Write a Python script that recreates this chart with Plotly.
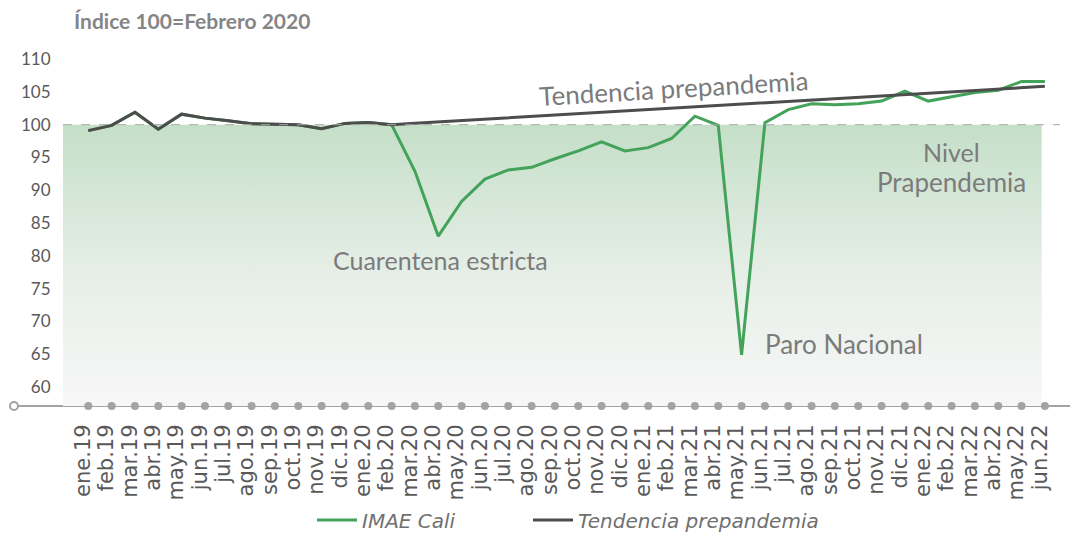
import plotly.graph_objects as go

# ---------------- data ----------------
months = ["ene.19", "feb.19", "mar.19", "abr.19", "may.19", "jun.19", "jul.19", "ago.19",
          "sep.19", "oct.19", "nov.19", "dic.19", "ene.20", "feb.20", "mar.20", "abr.20",
          "may.20", "jun.20", "jul.20", "ago.20", "sep.20", "oct.20", "nov.20", "dic.20",
          "ene.21", "feb.21", "mar.21", "abr.21", "may.21", "jun.21", "jul.21", "ago.21",
          "sep.21", "oct.21", "nov.21", "dic.21", "ene.22", "feb.22", "mar.22", "abr.22",
          "may.22", "jun.22"]

imae_cali = [99.1, 99.9, 101.9, 99.3, 101.6, 101.0, 100.6, 100.15, 100.05, 100.0, 99.4, 100.2,
             100.35, 100.0, 92.9, 83.0, 88.3, 91.7, 93.1, 93.5, 94.8, 96.0, 97.4, 96.0,
             96.5, 97.9, 101.3, 99.9, 64.9, 100.3, 102.3, 103.2, 103.05, 103.2, 103.6, 105.1,
             103.6, 104.2, 104.9, 105.25, 106.6, 106.6]

tendencia = [99.1, 99.9, 101.9, 99.3, 101.6, 101.0, 100.6, 100.15, 100.05, 100.0, 99.4, 100.2,
             100.35, 100.0, 100.21, 100.42, 100.63, 100.84, 101.05, 101.25, 101.46, 101.67,
             101.88, 102.09, 102.3, 102.51, 102.72, 102.93, 103.13, 103.34, 103.55, 103.76,
             103.97, 104.18, 104.39, 104.6, 104.81, 105.01, 105.22, 105.43, 105.64, 105.85]

y_ticks = [60, 65, 70, 75, 80, 85, 90, 95, 100, 105, 110]
nivel_pre = 100
y_min, y_max = 57.1, 112
x_min, x_max = -1.084, 42.29
shade_x = [-1.084, 40.86]

idx = list(range(len(months)))

FONT = "Lato"
TICK_FONT = "DejaVu Sans"
GRAY_TXT = "#595959"
ANN_TXT = "#7b7b7b"
GREEN = "#43a35a"
DARK = "#4d4d4d"
AXIS_GRAY = "#a3a3a3"

# the page body adds an 8px offset; the figure is sized to fill the rest of the window
FIG_W, FIG_H = 1070, 525
OFF = 8
plot_l, plot_r = 63 - OFF, 1075 - OFF
plot_t, plot_b = 46 - OFF, 406 - OFF
pw = plot_r - plot_l


def px_to_paper(px):
    """screen x pixel in the reference -> paper fraction"""
    return (px - 63) / pw


fig = go.Figure()

# gradient shaded area below pre-pandemic level
fig.add_trace(go.Scatter(
    x=[shade_x[0], shade_x[1], shade_x[1], shade_x[0], shade_x[0]],
    y=[y_min, y_min, nivel_pre, nivel_pre, y_min],
    mode="lines", line=dict(width=0), fill="toself",
    fillgradient=dict(type="vertical",
                      colorscale=[[0, "#f7f7f7"], [0.45, "#e7efe8"], [1, "#c5dfc8"]]),
    hoverinfo="skip", showlegend=False))

# series
fig.add_trace(go.Scatter(x=idx, y=imae_cali, mode="lines", name="IMAE Cali",
                         line=dict(color=GREEN, width=3), legend="legend"))
fig.add_trace(go.Scatter(x=idx, y=tendencia, mode="lines", name="Tendencia prepandemia",
                         line=dict(color=DARK, width=3), legend="legend2"))

# axis dots
fig.add_trace(go.Scatter(x=idx, y=[y_min] * len(months), mode="markers",
                         marker=dict(color=AXIS_GRAY, size=8), cliponaxis=False,
                         hoverinfo="skip", showlegend=False))

shapes = [
    dict(type="line", xref="paper", yref="y", x0=0, x1=px_to_paper(1060),
         y0=nivel_pre, y1=nivel_pre, line=dict(color="#a8a8a8", width=1, dash="dash"), layer="above"),
    dict(type="line", xref="paper", yref="paper", x0=px_to_paper(14), x1=px_to_paper(1078),
         y0=0, y1=0, line=dict(color=AXIS_GRAY, width=2), layer="below"),
    dict(type="circle", xref="paper", yref="paper", xsizemode="pixel", ysizemode="pixel",
         xanchor=px_to_paper(14), yanchor=0, x0=-4, x1=4, y0=-4, y1=4,
         line=dict(color=AXIS_GRAY, width=2), fillcolor="white", layer="above"),
]

annotations = [
    dict(text="<b>Índice 100=Febrero 2020</b>", xref="paper", yref="paper",
         x=px_to_paper(72), y=1.0, yshift=26, xanchor="left", yanchor="middle", showarrow=False,
         font=dict(family=FONT, size=21, color="#858585")),
    dict(text="Tendencia prepandemia", xref="x", yref="y", x=25.1, y=105.6,
         showarrow=False, textangle=-3.4, font=dict(family=FONT, size=26, color=ANN_TXT)),
    dict(text="Nivel", xref="x", yref="y", x=37.0, y=95.8,
         showarrow=False, font=dict(family=FONT, size=25, color=ANN_TXT)),
    dict(text="Prapendemia", xref="x", yref="y", x=37.0, y=91.3,
         showarrow=False, font=dict(family=FONT, size=26, color=ANN_TXT)),
    dict(text="Cuarentena estricta", xref="x", yref="y", x=15.1, y=79.4,
         showarrow=False, font=dict(family=FONT, size=25, color=ANN_TXT)),
    dict(text="Paro Nacional", xref="x", yref="y", x=32.4, y=66.6,
         showarrow=False, font=dict(family=FONT, size=26, color=ANN_TXT)),
]

legend_font = dict(family=TICK_FONT, size=20, color="#707070", style="italic")

fig.update_layout(
    template="none",
    width=FIG_W, height=FIG_H,
    margin=dict(l=plot_l, r=FIG_W - plot_r, t=plot_t, b=FIG_H - plot_b, autoexpand=False),
    plot_bgcolor="white", paper_bgcolor="white",
    font=dict(family=FONT, color=GRAY_TXT),
    xaxis=dict(range=[x_min, x_max], tickmode="array", tickvals=idx, ticktext=months,
               tickangle=-90, showgrid=False, zeroline=False, automargin=False,
               showline=False, ticks="outside", ticklen=9, tickcolor="rgba(0,0,0,0)",
               ticklabelshift=-5,
               tickfont=dict(family=TICK_FONT, size=21, color=GRAY_TXT)),
    yaxis=dict(range=[y_min, y_max], tickvals=y_ticks, showgrid=False, zeroline=False,
               automargin=False, showline=False, ticks="outside", ticklen=8,
               tickcolor="rgba(0,0,0,0)",
               tickfont=dict(family=FONT, size=17, color=GRAY_TXT)),
    legend=dict(orientation="h", x=px_to_paper(312), xanchor="left",
                yref="container", y=(533 - 520) / FIG_H, yanchor="middle",
                font=legend_font, itemwidth=40, bgcolor="rgba(0,0,0,0)"),
    legend2=dict(orientation="h", x=px_to_paper(528), xanchor="left",
                 yref="container", y=(533 - 520) / FIG_H, yanchor="middle",
                 font=legend_font, itemwidth=40, bgcolor="rgba(0,0,0,0)"),
    showlegend=True,
    shapes=shapes, annotations=annotations,
)

fig.write_html("out.html")
